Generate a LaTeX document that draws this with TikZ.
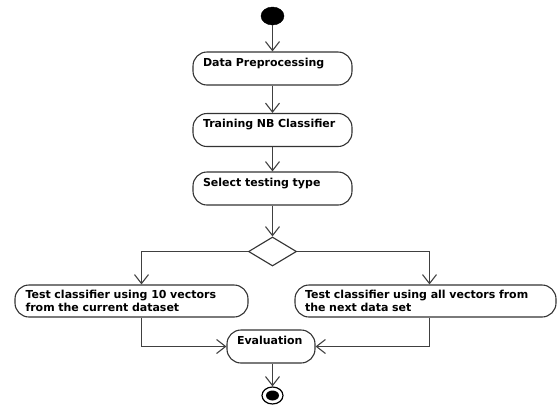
\documentclass[tikz,border=0pt]{standalone}
\usepackage{fontspec}
\setmainfont{DejaVu Sans}
\usetikzlibrary{arrows.meta,shapes.geometric}

\tikzset{
  flowline/.style={draw=black!75, line width=1.1pt,
    -{Straight Barb[length=9pt,width=14pt,line width=1.1pt]}},
  activity/.style={draw=black!80, line width=1.1pt, fill=white,
    rectangle, rounded corners=14pt, inner xsep=10pt, inner ysep=4pt,
    align=left, font=\fontsize{11}{12.5}\selectfont\bfseries},
  oneline/.style={text height=10pt, text depth=15pt},
  decision/.style={draw=black!80, line width=1.1pt, fill=white, diamond,
    inner sep=0pt, minimum width=48pt, minimum height=29pt},
}

\begin{document}
\begin{tikzpicture}[x=1pt,y=1pt]
  \useasboundingbox (0,0) rectangle (557,-405);

  % initial and final states
  \node[ellipse, fill=black, draw=black, inner sep=0pt,
        minimum width=23pt, minimum height=18pt] (start) at (272.5,-16) {};
  \node[ellipse, draw=black, line width=1.2pt, fill=white, inner sep=0pt,
        minimum width=21pt, minimum height=17pt] (finish) at (272.5,-395.5) {};
  \node[ellipse, fill=black, inner sep=0pt,
        minimum width=13pt, minimum height=10pt] (finishdot) at (finish.center) {};

  % activities
  \node[activity, oneline, minimum width=159pt, text width=139pt]
    (prep) at (272.5,-68.5) {Data Preprocessing};
  \node[activity, oneline, minimum width=159pt, text width=139pt]
    (train) at (272.5,-130) {Training NB Classifier};
  \node[activity, oneline, minimum width=159pt, text width=139pt]
    (select) at (272.5,-188.5) {Select testing type};
  \node[decision] (choice) at (272.5,-251.5) {};
  \node[activity, minimum width=233pt, minimum height=32pt, text width=212pt]
    (testten) at (131.5,-301) {Test classifier using 10 vectors\\from the current dataset};
  \node[activity, minimum width=261pt, minimum height=32pt, text width=241pt]
    (testall) at (425.5,-301) {Test classifier using all vectors from\\the next data set};
  \node[activity, oneline, minimum width=88pt, text width=68pt]
    (eval) at (271,-346.5) {Evaluation};

  % branch columns
  \coordinate (lcol) at (141.5,0);
  \coordinate (rcol) at (429.5,0);

  % control flow
  \draw[flowline] (start) -- (prep);
  \draw[flowline] (prep) -- (train);
  \draw[flowline] (train) -- (select);
  \draw[flowline] (select) -- (choice);
  \draw[flowline] (choice.west) -| (lcol |- testten.north);
  \draw[flowline] (choice.east) -| (rcol |- testall.north);
  \draw[flowline] (lcol |- testten.south) |- (eval.west);
  \draw[flowline] (rcol |- testall.south) |- (eval.east);
  \draw[flowline] (eval.south -| finish.north) -- (finish.north);
\end{tikzpicture}
\end{document}
